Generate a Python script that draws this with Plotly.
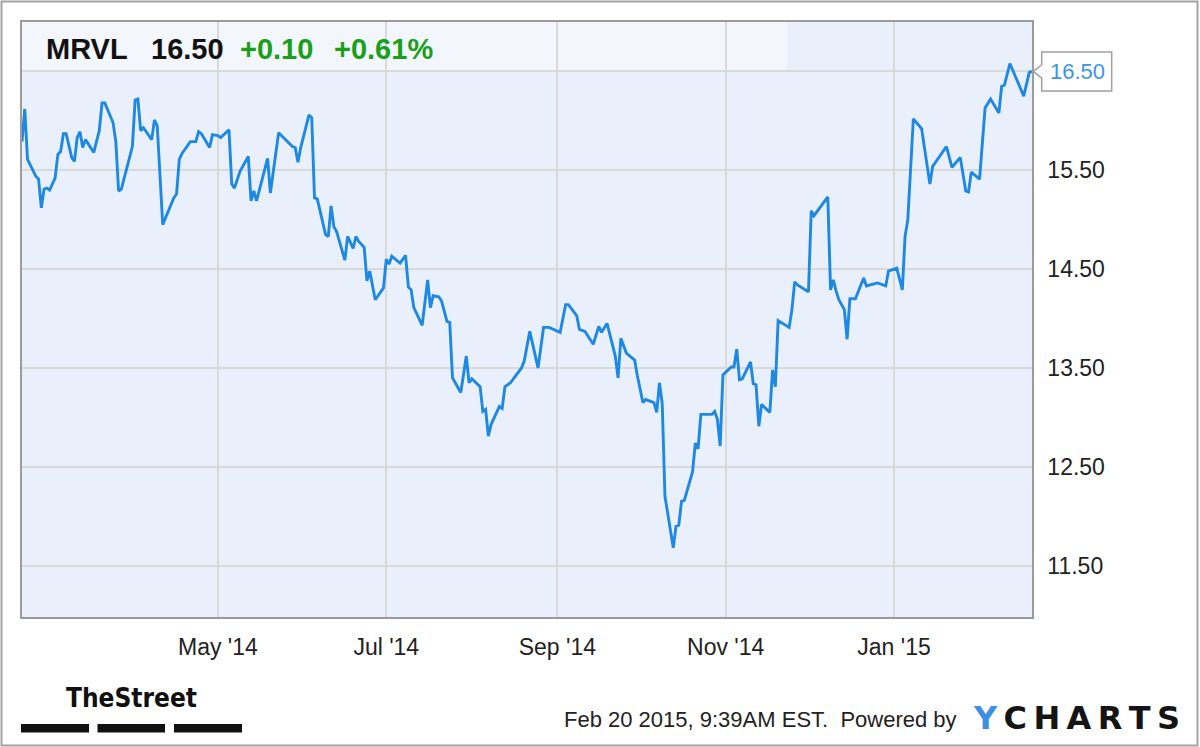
import plotly.graph_objects as go

# ---------------- data ----------------
dates = [
    "2014-02-19", "2014-02-20", "2014-02-21", "2014-02-24", "2014-02-25", "2014-02-26", "2014-02-27", "2014-02-28",
    "2014-03-01", "2014-03-03", "2014-03-04", "2014-03-05", "2014-03-06", "2014-03-07", "2014-03-09", "2014-03-10",
    "2014-03-11", "2014-03-12", "2014-03-13", "2014-03-14", "2014-03-17", "2014-03-19", "2014-03-20", "2014-03-21",
    "2014-03-24", "2014-03-25", "2014-03-26", "2014-03-27", "2014-03-31", "2014-04-01", "2014-04-02", "2014-04-03",
    "2014-04-04", "2014-04-07", "2014-04-08", "2014-04-09", "2014-04-11", "2014-04-15", "2014-04-16", "2014-04-17",
    "2014-04-18", "2014-04-21", "2014-04-23", "2014-04-24", "2014-04-25", "2014-04-28", "2014-04-29", "2014-05-01",
    "2014-05-02", "2014-05-05", "2014-05-06", "2014-05-07", "2014-05-09", "2014-05-12", "2014-05-13", "2014-05-14",
    "2014-05-15", "2014-05-19", "2014-05-20", "2014-05-23", "2014-05-28", "2014-05-29", "2014-05-30", "2014-05-31",
    "2014-06-03", "2014-06-04", "2014-06-05", "2014-06-06", "2014-06-09", "2014-06-10", "2014-06-11", "2014-06-12",
    "2014-06-13", "2014-06-16", "2014-06-17", "2014-06-19", "2014-06-20", "2014-06-21", "2014-06-23", "2014-06-24",
    "2014-06-25", "2014-06-27", "2014-06-30", "2014-07-01", "2014-07-02", "2014-07-03", "2014-07-06", "2014-07-08",
    "2014-07-09", "2014-07-10", "2014-07-11", "2014-07-14", "2014-07-16", "2014-07-17", "2014-07-18", "2014-07-20",
    "2014-07-21", "2014-07-23", "2014-07-24", "2014-07-25", "2014-07-28", "2014-07-30", "2014-07-31", "2014-08-01",
    "2014-08-04", "2014-08-05", "2014-08-06", "2014-08-07", "2014-08-08", "2014-08-11", "2014-08-12", "2014-08-13",
    "2014-08-15", "2014-08-17", "2014-08-19", "2014-08-20", "2014-08-22", "2014-08-25", "2014-08-27", "2014-08-29",
    "2014-09-02", "2014-09-04", "2014-09-05", "2014-09-08", "2014-09-09", "2014-09-11", "2014-09-14", "2014-09-16",
    "2014-09-17", "2014-09-19", "2014-09-22", "2014-09-23", "2014-09-24", "2014-09-26", "2014-09-29", "2014-09-30",
    "2014-10-02", "2014-10-03", "2014-10-06", "2014-10-07", "2014-10-08", "2014-10-09", "2014-10-10", "2014-10-13",
    "2014-10-14", "2014-10-15", "2014-10-16", "2014-10-17", "2014-10-20", "2014-10-21", "2014-10-22", "2014-10-23",
    "2014-10-27", "2014-10-28", "2014-10-29", "2014-10-30", "2014-10-31", "2014-11-03", "2014-11-04", "2014-11-05",
    "2014-11-06", "2014-11-07", "2014-11-10", "2014-11-11", "2014-11-12", "2014-11-13", "2014-11-14", "2014-11-17",
    "2014-11-18", "2014-11-19", "2014-11-20", "2014-11-24", "2014-11-25", "2014-11-26", "2014-11-27", "2014-12-01",
    "2014-12-02", "2014-12-03", "2014-12-08", "2014-12-09", "2014-12-10", "2014-12-11", "2014-12-12", "2014-12-14",
    "2014-12-15", "2014-12-16", "2014-12-18", "2014-12-21", "2014-12-22", "2014-12-26", "2014-12-29", "2014-12-30",
    "2015-01-02", "2015-01-04", "2015-01-05", "2015-01-06", "2015-01-08", "2015-01-11", "2015-01-14", "2015-01-15",
    "2015-01-20", "2015-01-22", "2015-01-25", "2015-01-27", "2015-01-28", "2015-01-29", "2015-02-01", "2015-02-03",
    "2015-02-05", "2015-02-08", "2015-02-09", "2015-02-10", "2015-02-12", "2015-02-17", "2015-02-19", "2015-02-20",
]
prices = [
    15.79, 16.12, 15.61, 15.44, 15.41, 15.12, 15.31, 15.32,
    15.30, 15.42, 15.66, 15.69, 15.87, 15.87, 15.63, 15.59,
    15.83, 15.89, 15.73, 15.81, 15.68, 15.90, 16.18, 16.18,
    15.98, 15.79, 15.29, 15.31, 15.74, 16.21, 16.22, 15.90,
    15.93, 15.81, 16.01, 15.95, 14.95, 15.22, 15.26, 15.61,
    15.67, 15.79, 15.79, 15.89, 15.87, 15.73, 15.86, 15.85,
    15.83, 15.91, 15.36, 15.32, 15.49, 15.64, 15.19, 15.29,
    15.19, 15.62, 15.27, 15.88, 15.74, 15.73, 15.58, 15.73,
    16.06, 16.03, 15.22, 15.21, 14.85, 14.83, 15.14, 14.93,
    14.88, 14.59, 14.83, 14.71, 14.83, 14.78, 14.72, 14.38,
    14.48, 14.19, 14.31, 14.60, 14.55, 14.63, 14.56, 14.64,
    14.32, 14.29, 14.11, 13.93, 14.39, 14.11, 14.23, 14.22,
    14.18, 13.97, 13.96, 13.40, 13.25, 13.62, 13.35, 13.39,
    13.31, 13.06, 13.08, 12.81, 12.93, 13.11, 13.09, 13.31,
    13.35, 13.42, 13.50, 13.57, 13.87, 13.50, 13.91, 13.91,
    13.86, 14.14, 14.14, 14.03, 13.89, 13.87, 13.74, 13.92,
    13.86, 13.95, 13.62, 13.40, 13.80, 13.65, 13.58, 13.42,
    13.15, 13.18, 13.15, 13.05, 13.35, 13.14, 12.20, 11.68,
    11.90, 11.91, 12.15, 12.16, 12.45, 12.74, 12.68, 13.03,
    13.03, 13.06, 12.98, 12.71, 13.43, 13.51, 13.51, 13.69,
    13.38, 13.39, 13.56, 13.34, 13.33, 12.91, 13.13, 13.05,
    13.48, 13.31, 13.98, 13.91, 14.09, 14.37, 14.34, 14.27,
    15.09, 15.04, 15.23, 14.29, 14.39, 14.28, 14.19, 14.09,
    13.79, 14.20, 14.20, 14.41, 14.33, 14.36, 14.33, 14.48,
    14.51, 14.29, 14.83, 15.00, 16.02, 15.92, 15.36, 15.54,
    15.74, 15.53, 15.63, 15.29, 15.28, 15.48, 15.41, 16.13,
    16.22, 16.08, 16.35, 16.36, 16.58, 16.25, 16.49, 16.50,
]

x_tick_vals = ["2014-05-01", "2014-07-01", "2014-09-01", "2014-11-01", "2015-01-01"]
x_tick_text = ["May '14", "Jul '14", "Sep '14", "Nov '14", "Jan '15"]
y_tick_vals = [11.5, 12.5, 13.5, 14.5, 15.5, 16.5]
y_tick_text = ["11.50", "12.50", "13.50", "14.50", "15.50", ""]

ticker = "MRVL"
last_price = 16.50
change = 0.10
change_pct = 0.61
timestamp = "Feb 20 2015, 9:39AM EST."

# ---------------- layout helpers (pixel -> paper) ----------------
W, H = 1200, 747
L, R, T, B = 22, 1032, 22, 617


def px(x):
    return (x - L) / (R - L)


def py(y):
    return (B - y) / (B - T)


FONT = "Liberation Sans, Arial, Helvetica, sans-serif"
LINE_BLUE = "#1e88e5"
GREEN = "#19a019"

fig = go.Figure()
fig.add_trace(go.Scatter(
    x=dates, y=prices, mode="lines",
    line=dict(color=LINE_BLUE, width=2.9),
    hoverinfo="skip", showlegend=False,
))

shapes = []
# header band (lighter) inside plot
shapes.append(dict(type="rect", xref="paper", yref="paper", x0=0, x1=px(787), y0=py(72), y1=1,
                   fillcolor="#f3f6fd", line=dict(width=0), layer="below"))
# outer border
shapes.append(dict(type="rect", xref="paper", yref="paper", x0=px(1.5), x1=px(1197.5), y0=py(745.5), y1=py(1.5),
                   fillcolor="rgba(0,0,0,0)", line=dict(color="#a3a3a3", width=2), layer="above"))
# callout box for last price (y in data units)
pxu = (17.0 - 10.98) / (B - T)  # price units per pixel
tip_x, nb_x, box_r = px(1033.3), px(1041.7), px(1111.7)
path = (f"M {tip_x},{last_price} "
        f"L {nb_x},{last_price + 6.7 * pxu} L {nb_x},{last_price + 19.5 * pxu} "
        f"L {box_r},{last_price + 19.5 * pxu} L {box_r},{last_price - 19.5 * pxu} "
        f"L {nb_x},{last_price - 19.5 * pxu} L {nb_x},{last_price - 6.7 * pxu} Z")
shapes.append(dict(type="path", xref="paper", yref="y", path=path,
                   fillcolor="white", line=dict(color="#a0a0a0", width=1.5), layer="above"))
# TheStreet bars
for x0, x1 in [(21, 89), (97.5, 165), (174, 242)]:
    shapes.append(dict(type="rect", xref="paper", yref="paper", x0=px(x0), x1=px(x1), y0=py(732.5), y1=py(724),
                       fillcolor="#111111", line=dict(width=0), layer="above"))

annotations = []
hdr_y = py(49)
for txt, xl, col in [(ticker, 45, "#111111"), (f"{last_price:.2f}", 150, "#111111"),
                     (f"+{change:.2f}", 239, GREEN), (f"+{change_pct:.2f}%", 333, GREEN)]:
    annotations.append(dict(text=f"<b>{txt}</b>", xref="paper", yref="paper", x=px(xl), y=hdr_y,
                            xanchor="left", yanchor="middle", showarrow=False, borderpad=0,
                            font=dict(family=FONT, size=29, color=col)))
# callout text
annotations.append(dict(text=f"{last_price:.2f}", xref="paper", yref="y", x=px(1077), y=last_price,
                        xanchor="center", yanchor="middle", showarrow=False,
                        font=dict(family=FONT, size=22, color="#3b95e6")))
# TheStreet logo
annotations.append(dict(text="<b>TheStreet</b>", xref="paper", yref="paper", x=px(131), y=py(698),
                        xanchor="center", yanchor="middle", showarrow=False, borderpad=0,
                        font=dict(family="DejaVu Sans Condensed, Liberation Sans Narrow, Arial Narrow, Liberation Sans, sans-serif",
                                  size=26, color="#111111")))
# footer text
annotations.append(dict(text=f"{timestamp}  Powered by", xref="paper", yref="paper", x=px(958), y=py(719),
                        xanchor="right", yanchor="middle", showarrow=False, borderpad=0,
                        font=dict(family=FONT, size=22, color="#222222")))
annotations.append(dict(text="<b><span style='color:#3d8fe6'>Y</span>\u2009C\u2009H\u2009A\u2009R\u2009T\u2009S</b>",
                        xref="paper", yref="paper", x=px(1181), y=py(718),
                        xanchor="right", yanchor="middle", showarrow=False, borderpad=0,
                        font=dict(family="DejaVu Sans, Arial, sans-serif", size=32, color="#141414")))

axis_common = dict(showgrid=True, gridcolor="#d9d9d9", gridwidth=1.5, zeroline=False,
                   showline=True, mirror=True, linecolor="#9b9b9b", linewidth=1.5, ticks="",
                   tickfont=dict(family=FONT, size=23, color="#222222"), fixedrange=True)

fig.update_layout(
    width=W, height=H,
    margin=dict(l=L, r=W - R, t=T, b=H - B, pad=0),
    paper_bgcolor="white", plot_bgcolor="#eaf0fb",
    showlegend=False,
    xaxis=dict(type="date", range=["2014-02-19", "2015-02-20"], tickmode="array",
               tickvals=x_tick_vals, ticktext=x_tick_text, ticklabelstandoff=9, **axis_common),
    yaxis=dict(side="right", range=[10.98, 17.0], tickmode="array",
               tickvals=y_tick_vals, ticktext=y_tick_text, ticklabelstandoff=9, **axis_common),
    shapes=shapes, annotations=annotations,
)

fig.write_html("out.html", config={"displayModeBar": False},
               post_script="document.body.style.margin='0';document.body.style.overflow='hidden';")
